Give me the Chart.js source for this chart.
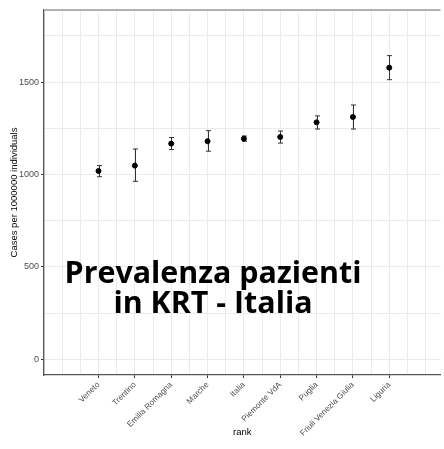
<!DOCTYPE html>
<html>
<head>
<meta charset="utf-8">
<script src="https://cdn.jsdelivr.net/npm/chart.js@4"></script>
<style>
  html, body { margin: 0; padding: 0; background: #fff; }
  #wrap { width: 444px; height: 449px; }
</style>
</head>
<body>
<div id="wrap"><canvas id="myChart" width="444" height="449"></canvas></div>
<script>
// data
const regions = ["Veneto", "Trentino", "Emilia Romagna", "Marche", "Italia", "Piemonte VdA", "Puglia", "Friuli Venezia Giulia", "Liguria"];
const rate = [1019, 1048, 1167, 1180, 1194, 1203, 1282, 1311, 1578];
const lower = [988, 963, 1135, 1126, 1180, 1170, 1246, 1246, 1513];
const upper = [1048, 1138, 1200, 1237, 1208, 1235, 1317, 1376, 1643];
const yTicks = [0, 500, 1000, 1500];
const yGrid = [0, 250, 500, 750, 1000, 1250, 1500, 1750];

const FONT = "'Liberation Sans', Arial, sans-serif";

// error bars + top border + overlay caption
const extras = {
    id: "extras",
    beforeDatasetsDraw(chart) {
        const c = chart.ctx;
        const xs = chart.scales.x, ys = chart.scales.y;
        c.save();
        c.strokeStyle = "#333";
        c.lineWidth = 1;
        regions.forEach((r, i) => {
            const x = Math.round(xs.getPixelForValue(i + 1)) + 0.5;
            const y1 = ys.getPixelForValue(lower[i]);
            const y2 = ys.getPixelForValue(upper[i]);
            c.beginPath();
            c.moveTo(x, y1); c.lineTo(x, y2);
            c.moveTo(x - 2.5, y1); c.lineTo(x + 2.5, y1);
            c.moveTo(x - 2.5, y2); c.lineTo(x + 2.5, y2);
            c.stroke();
        });
        c.restore();
    },
    afterDraw(chart) {
        const c = chart.ctx;
        const a = chart.chartArea;
        c.save();
        c.strokeStyle = "#b3b3b3";
        c.lineWidth = 2;
        c.beginPath();
        c.moveTo(a.left, a.top); c.lineTo(a.right, a.top);
        c.stroke();

        // caption over the plot
        c.fillStyle = "#000";
        c.textAlign = "center";
        c.textBaseline = "alphabetic";
        let size = 30;
        c.font = "bold " + size + "px 'Open Sans', sans-serif";
        const w = c.measureText("Prevalenza pazienti").width;
        size = size * 297 / w;
        c.font = "bold " + size.toFixed(1) + "px 'Open Sans', sans-serif";
        c.fillText("Prevalenza pazienti", 213, 283);
        c.fillText("in KRT - Italia", 213, 313);
        c.restore();
    }
};

const ctx = document.getElementById("myChart").getContext("2d");

new Chart(ctx, {
    type: "scatter",
    data: {
        datasets: [{
            data: rate.map((v, i) => ({ x: i + 1, y: v })),
            backgroundColor: "#000",
            borderColor: "#000",
            pointRadius: 2.5,
            pointHoverRadius: 2.5
        }]
    },
    options: {
        responsive: false,
        animation: false,
        layout: { padding: { left: 5, top: 10, right: 0, bottom: 7 } },
        plugins: { legend: { display: false }, tooltip: { enabled: false } },
        scales: {
            x: {
                type: "linear",
                min: -0.5,
                max: 10.41,
                afterFit(s) { s.height = 67; },
                ticks: {
                    stepSize: 0.5,
                    includeBounds: false,
                    autoSkip: false,
                    minRotation: 45,
                    maxRotation: 45,
                    padding: 2,
                    color: "#4d4d4d",
                    font: { family: FONT, size: 8.2 },
                    callback: v => (Number.isInteger(v) && v >= 1 && v <= 9) ? regions[v - 1] : ""
                },
                grid: {
                    color: "#ebebeb",
                    lineWidth: 1,
                    tickLength: 3,
                    tickColor: c => (c.tick && Number.isInteger(c.tick.value) && c.tick.value >= 1 && c.tick.value <= 9) ? "#333" : "rgba(0,0,0,0)"
                },
                border: { color: "#555", width: 1.3 },
                title: {
                    display: true,
                    text: "rank",
                    color: "#000",
                    font: { family: FONT, size: 9.5 },
                    padding: { top: 4, bottom: 4 }
                }
            },
            y: {
                min: -85,
                max: 1890,
                afterFit(s) { s.width = 39; },
                afterBuildTicks(s) { s.ticks = yGrid.map(v => ({ value: v })); },
                ticks: {
                    autoSkip: false,
                    padding: 2,
                    color: "#4d4d4d",
                    font: { family: FONT, size: 9 },
                    callback: v => yTicks.includes(v) ? String(v) : ""
                },
                grid: {
                    color: "#ebebeb",
                    lineWidth: 1,
                    tickLength: 3,
                    tickColor: c => (c.tick && yTicks.includes(c.tick.value)) ? "#333" : "rgba(0,0,0,0)"
                },
                border: { color: "#555", width: 1.3 },
                title: {
                    display: true,
                    text: "Cases per 1000000 individuals",
                    color: "#000",
                    font: { family: FONT, size: 9.5 },
                    padding: { top: 4, bottom: 4 }
                }
            }
        }
    },
    plugins: [extras]
});
</script>
</body>
</html>
